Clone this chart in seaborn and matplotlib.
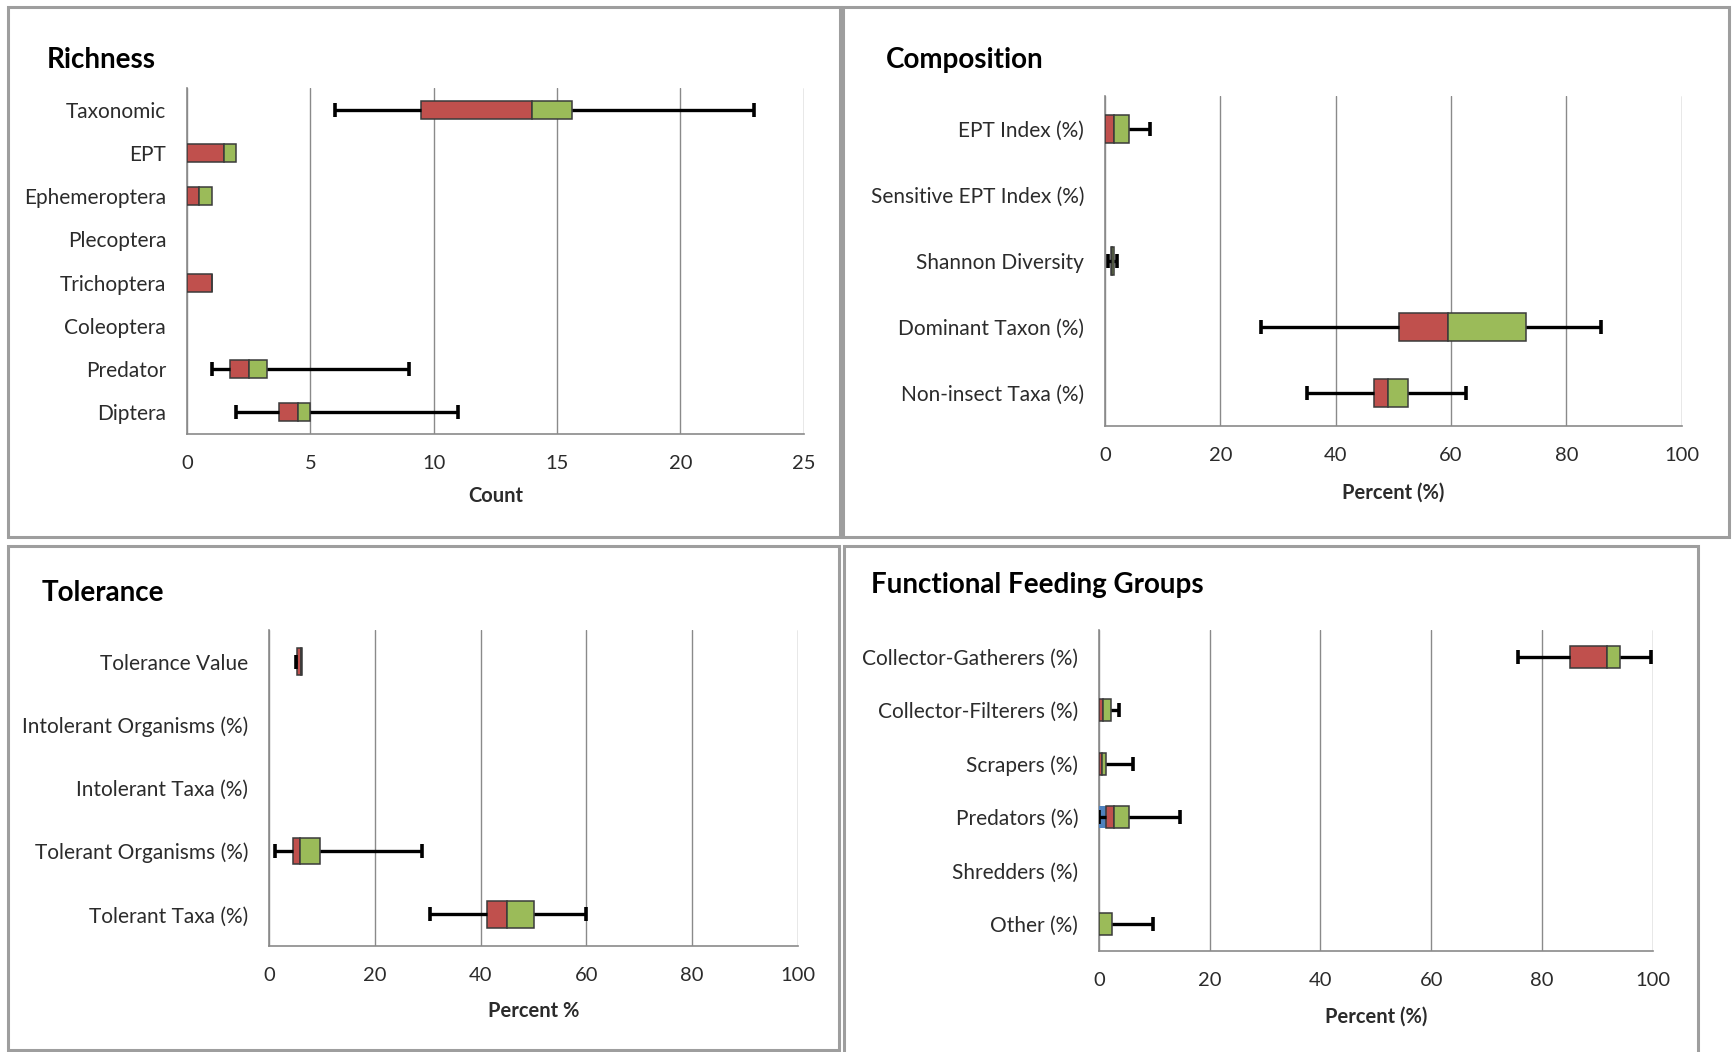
import numpy as np
import pandas as pd
import matplotlib
matplotlib.use("Agg")
import matplotlib.pyplot as plt
from matplotlib.patches import Rectangle
import seaborn as sns

nan = np.nan

# ---------------- data ----------------
rich_cats = ["Taxonomic", "EPT", "Ephemeroptera", "Plecoptera", "Trichoptera",
             "Coleoptera", "Predator", "Diptera"]
rich_min = [6, 0, 0, nan, 0, nan, 1, 2]
rich_q1 = [9.5, 0, 0, nan, 0, nan, 1.75, 3.75]
rich_med = [14, 1.5, 0.5, nan, 1, nan, 2.5, 4.5]
rich_q3 = [15.6, 2, 1, nan, 1, nan, 3.25, 5]
rich_max = [23, 2, 1, nan, 1, nan, 9, 11]
rich_ticks = [0, 5, 10, 15, 20, 25]

comp_cats = ["EPT Index (%)", "Sensitive EPT Index (%)", "Shannon Diversity",
             "Dominant Taxon (%)", "Non-insect Taxa (%)"]
comp_min = [0, nan, 0.5, 27, 35]
comp_q1 = [0, nan, 1.0, 51, 46.7]
comp_med = [1.5, nan, 1.2, 59.5, 49]
comp_q3 = [4.1, nan, 1.6, 73, 52.6]
comp_max = [7.8, nan, 2.0, 86, 62.6]
pct_ticks = [0, 20, 40, 60, 80, 100]

tol_cats = ["Tolerance Value", "Intolerant Organisms (%)", "Intolerant Taxa (%)",
            "Tolerant Organisms (%)", "Tolerant Taxa (%)"]
tol_min = [5.1, nan, nan, 1.2, 30.5]
tol_q1 = [5.2, nan, nan, 4.5, 41.3]
tol_med = [6.1, nan, nan, 5.8, 45]
tol_q3 = [6.2, nan, nan, 9.6, 50]
tol_max = [6.2, nan, nan, 29, 60]

ffg_cats = ["Collector-Gatherers (%)", "Collector-Filterers (%)", "Scrapers (%)",
            "Predators (%)", "Shredders (%)", "Other (%)"]
ffg_min = [75.7, 0, 0, 0, nan, 0]
ffg_q1 = [85, 0, 0, 1.35, nan, 0]
ffg_med = [91.8, 0.75, 0.5, 2.7, nan, 0]
ffg_q3 = [94.2, 2.2, 1.35, 5.4, nan, 2.4]
ffg_max = [99.8, 3.7, 6.2, 14.6, nan, 9.7]
ffg_base_visible = [False, False, False, True, False, False]

# ---------------- style ----------------
sns.set_theme(style="white")
plt.rcParams["font.family"] = ["Lato", "DejaVu Sans"]

W, H = 1733, 1052
fig = plt.figure(figsize=(W / 100, H / 100), dpi=100)

GRAY = "#8a8a8a"
RED = "#C0504D"
GREEN = "#9BBB59"
BLUE = "#4F81BD"
EDGE = "#3a3a3a"
TXT = "#2b2b2b"


def px_axes(x0, x1, y0, y1):
    return fig.add_axes([x0 / W, 1 - y1 / H, (x1 - x0) / W, (y1 - y0) / H])


def draw_panel(ax, cats, vmin, q1, med, q3, vmax, ticks, xlabel, base_visible=None):
    n = len(cats)
    df = pd.DataFrame({"cat": cats, "min": vmin, "q1": q1, "med": med,
                       "q3": q3, "max": vmax})
    df["y"] = np.arange(n)
    h = 0.42
    ok = df.dropna()
    if base_visible is not None:
        bv = np.array(base_visible)
        sub = df[bv & df["q1"].notna().values]
        ax.barh(sub["y"], sub["q1"], height=h, color=BLUE, edgecolor="none",
                zorder=3)
    ax.barh(ok["y"], ok["med"] - ok["q1"], left=ok["q1"], height=h, color=RED,
            edgecolor=EDGE, linewidth=1.1, zorder=3)
    ax.barh(ok["y"], ok["q3"] - ok["med"], left=ok["med"], height=h, color=GREEN,
            edgecolor=EDGE, linewidth=1.1, zorder=3)
    lo = ok[ok["min"] < ok["q1"]]
    hi = ok[ok["max"] > ok["q3"]]
    ax.hlines(lo["y"], lo["min"], lo["q1"], color="black", lw=2.4, zorder=4)
    ax.hlines(hi["y"], hi["q3"], hi["max"], color="black", lw=2.4, zorder=4)
    caps = pd.DataFrame({"x": list(lo["min"]) + list(hi["max"]),
                         "y": list(lo["y"]) + list(hi["y"])})
    sns.scatterplot(data=caps, x="x", y="y", marker="|", s=90, linewidth=2.6,
                    color="black", ax=ax, zorder=5, legend=False)

    ax.set_xlim(ticks[0], ticks[-1])
    ax.set_ylim(n - 0.5, -0.5)
    ax.set_yticks(np.arange(n))
    ax.set_yticklabels(cats)
    ax.set_yticks(np.arange(-0.5, n, 1), minor=True)
    ax.tick_params(axis="y", which="major", length=0, pad=15, labelsize=15,
                   labelcolor=TXT)
    ax.tick_params(axis="y", which="minor", length=6, width=1, color=GRAY,
                   direction="out")
    ax.set_xticks(ticks)
    ax.tick_params(axis="x", which="major", length=5, width=1, color=GRAY,
                   direction="out", pad=10, labelsize=14.5, labelcolor=TXT)
    ax.grid(axis="x", color=GRAY, lw=1)
    ax.grid(axis="y", visible=False)
    ax.set_axisbelow(True)
    for s in ["top", "right"]:
        ax.spines[s].set_visible(False)
    for s in ["left", "bottom"]:
        ax.spines[s].set_color(GRAY)
        ax.spines[s].set_linewidth(1.2)
    ax.set_xlabel(xlabel, fontsize=14.5, fontweight="bold", color=TXT)
    ax.set_ylabel("")


# axes in pixel positions
ax1 = px_axes(187, 803.6, 88, 434)
ax2 = px_axes(1105, 1681.7, 96, 426)
ax3 = px_axes(269, 798, 630, 946)
ax4 = px_axes(1099, 1652.6, 630, 951)

draw_panel(ax1, rich_cats, rich_min, rich_q1, rich_med, rich_q3, rich_max,
           rich_ticks, "Count")
draw_panel(ax2, comp_cats, comp_min, comp_q1, comp_med, comp_q3, comp_max,
           pct_ticks, "Percent (%)")
draw_panel(ax3, tol_cats, tol_min, tol_q1, tol_med, tol_q3, tol_max,
           pct_ticks, "Percent %")
draw_panel(ax4, ffg_cats, ffg_min, ffg_q1, ffg_med, ffg_q3, ffg_max,
           pct_ticks, "Percent (%)", base_visible=ffg_base_visible)

for ax, off in [(ax1, 62), (ax2, 67), (ax3, 65), (ax4, 66)]:
    hpx = ax.get_position().height * H
    ax.xaxis.set_label_coords(0.5, -off / hpx)
    ax.xaxis.label.set_va("center")

# titles
for txt, x, y in [("Richness", 47, 60), ("Composition", 886, 60),
                  ("Tolerance", 42, 593), ("Functional Feeding Groups", 871, 585)]:
    fig.text(x / W, 1 - y / H, txt, fontsize=20, fontweight="bold",
             ha="left", va="center", color="black")

# panel frames
for x0, y0, x1, y1 in [(8, 7, 840, 537), (843, 7, 1729, 537),
                       (8, 546, 839, 1050), (844, 546, 1698, 1060)]:
    fig.patches.append(Rectangle((x0 / W, 1 - y1 / H), (x1 - x0) / W, (y1 - y0) / H,
                                 transform=fig.transFigure, fill=False,
                                 edgecolor="#9e9e9e", lw=2.2))

fig.savefig("out.png", dpi=100, facecolor="white")
